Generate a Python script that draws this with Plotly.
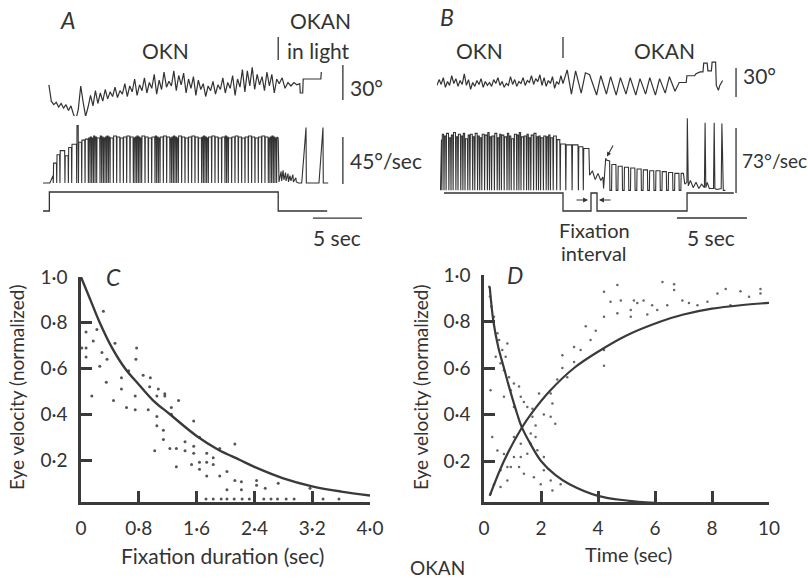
import plotly.graph_objects as go

W, H = 808, 581
INK = "#333333"
FONT = "Lato"

# ---------------- data ----------------
# Panel A (time in s, position in deg, velocity in deg/s, stimulus on/off)
A_pos_t0, A_pos_dt = 0.6, 0.25
A_pos_okn = [13, -1, -4, -2, -6, -3, -7, -4, -9, -5,
             -12, -17, -8, 12, -2, -14, -6, 4, -5, 8,
             -3, 6, -1, 9, 1, 7, 3, 11, 2, 8,
             5, 14, 3, 12, 7, 18, 4, 13, 8, 19,
             6, 15, 10, 22, 5, 17, 9, 24, 11, 16,
             12, 25, 8, 21, 13, 23, 6, 18, 10, 20,
             4, 17, 9, 14, 3, 12, 8, 16, 5, 13,
             9, 19, 6, 15, 10, 21, 4, 18, 11, 26,
             7, 25, 12, 28, 9, 22, 13, 20, 8, 24,
             12, 22, 6, 18]
A_pos_okan_t = [24.1, 24.4, 24.7, 25.0, 25.3, 25.6, 25.9, 26.2, 26.25, 26.5, 26.55, 28.35, 28.4]
A_pos_okan_v = [14, 19, 10, 15, 12, 15, 13, 14, 6, 6, 18, 18, 24]

A_vel_dips = [1.05, 1.4, 1.73, 2.24, 2.59, 2.93, 3.44, 3.62, 3.95, 4.29,
              4.63, 4.8, 4.97, 5.14, 5.31, 5.48, 5.82, 5.99, 6.16, 6.33,
              6.5, 6.67, 6.84, 7.18, 7.52, 7.86, 8.2, 8.54, 8.88, 9.22,
              9.39, 9.56, 9.73, 9.9, 10.07, 10.41, 10.75, 11.09, 11.43, 11.6,
              11.77, 11.94, 12.28, 12.62, 12.96, 13.13, 13.3, 13.47, 13.64, 13.81,
              14.15, 14.49, 14.83, 15.17, 15.51, 15.85, 16.19, 16.36, 16.53, 16.7,
              16.87, 17.21, 17.55, 17.89, 18.23, 18.57, 18.74, 18.91, 19.25, 19.59,
              19.93, 20.27, 20.61, 20.95, 21.29, 21.63, 21.97, 22.31, 22.65, 22.99,
              23.16, 23.33, 23.5, 23.67, 23.84]
A_vel_levels = [8, 20, 28, 32, 27, 35, 38, 56, 40, 42,
                43, 44, 45, 44, 46, 45, 44, 46, 45, 44,
                45, 46, 45, 44, 46, 45, 44, 45, 46, 45,
                44, 45, 46, 45, 44, 46, 45, 44, 45, 46,
                45, 44, 45, 46, 45, 44, 45, 46, 45, 44,
                46, 45, 44, 45, 46, 45, 44, 45, 46, 45,
                44, 45, 46, 45, 44, 45, 46, 45, 44, 45,
                46, 45, 44, 45, 46, 45, 44, 45, 46, 45,
                44, 45, 46, 45, 44, 45]
A_vel_okan_t = [24.0, 24.08, 24.3, 24.35, 24.5, 24.58, 24.75, 24.8, 25.0, 25.05,
                25.2, 25.3, 25.5, 25.55, 25.8, 25.85, 26.05, 26.4, 26.84, 26.87,
                28.16, 28.57, 28.6, 29.1]
A_vel_okan_v = [44, 2, 12, 3, 13, 4, 11, 3, 10, 2,
                8, 3, 9, 2, 6, 2, 1, 1, 54, 1,
                1, 54, 1, 1]
A_stim_t = [0, 0.65, 0.65, 24.0, 24.0, 29.0]
A_stim_v = [0, 0, 1, 1, 0, 0]

# Panel B
B_pos_t0, B_pos_dt = 0.0, 0.15
B_pos_okn = [12, 18, 13, 20, 10, 16, 12, 22, 14, 19,
             11, 17, 13, 24, 12, 18, 8, 15, 11, 17,
             13, 19, 10, 16, 12, 15, 11, 18, 14, 20,
             12, 16, 10, 14, 12, 21, 13, 18, 11, 16,
             14, 20, 12, 17, 15, 22, 13, 19, 16, 23,
             12, 20, 11, 17, 14, 21, 9, 16, 13, 22,
             14]
B_pos_okan_t = [9.3, 9.6, 9.9, 10.3, 10.6, 10.9, 11.4, 11.7, 12.1, 12.4,
                12.8, 13.1, 13.5, 13.8, 14.2, 14.5, 14.9, 15.2, 15.6, 15.9,
                16.3, 16.6, 17.0, 17.3, 17.8, 17.85, 18.4, 18.5, 18.8, 19.0,
                19.05, 19.3, 19.35, 19.6, 19.65, 19.9, 19.95, 20.1, 20.2, 20.4]
B_pos_okan_v = [28, 3, 27, 4, 25, 23, 2, 22, 3, 21,
                2, 20, 3, 20, 2, 19, 3, 20, 2, 19,
                4, 21, 6, 15, 15, 22, 22, 24, 26, 26,
                35, 35, 27, 27, 36, 36, 12, 7, 12, 17]

B_vel_dips = [0.35, 0.5, 0.65, 0.85, 1.0, 1.15, 1.35, 1.5, 1.7, 1.85,
              2.0, 2.2, 2.35, 2.55, 2.7, 2.9, 3.05, 3.2, 3.4, 3.6,
              3.75, 3.9, 4.1, 4.3, 4.45, 4.6, 4.8, 5.0, 5.15, 5.3,
              5.5, 5.7, 5.85, 6.0, 6.2, 6.4, 6.55, 6.7, 6.9, 7.1,
              7.25, 7.4, 7.6, 7.8, 7.95, 8.1, 8.3, 8.55, 8.8, 9.2,
              9.65, 10.1, 10.45]
B_vel_levels = [60, 66, 64, 67, 62, 65, 68, 63, 66, 64,
                67, 61, 65, 66, 63, 67, 64, 62, 66, 65,
                68, 63, 64, 67, 62, 66, 65, 63, 67, 64,
                61, 66, 65, 68, 63, 64, 66, 62, 65, 67,
                63, 64, 62, 64, 63, 65, 62, 64, 60, 55,
                54, 54, 52, 50]
B_vel_fix_t = [10.85, 10.9, 11.1, 11.3, 11.5, 11.7, 11.85, 11.9, 12.05, 12.1]
B_vel_fix_v = [50, 20, 25, 15, 22, 14, 18, 5, 39, 37]
B_okan_dips = [12.35, 12.8, 13.25, 13.7, 14.15, 14.6, 15.05, 15.5, 15.95, 16.4, 16.85, 17.3]
B_okan_levels = [36, 32, 30, 29, 28, 27, 26, 25, 25, 24, 23, 22, 22]
B_vel_light_t = [17.6, 17.7, 17.85, 17.88, 17.95, 18.1, 18.3, 18.5, 18.7, 18.9,
                 19.1, 19.15, 19.2, 19.3, 19.45, 19.75, 19.8, 19.85, 20.0, 20.3,
                 20.35, 20.4, 20.45, 20.6]
B_vel_light_v = [22, 10, 12, 84, 8, 14, 6, 12, 5, 10,
                 6, 79, 6, 12, 5, 5, 79, 5, 4, 5,
                 78, 4, 3, 3]
B_stim_t = [0.5, 9.0, 9.0, 11.0, 11.0, 11.43, 11.43, 17.86, 17.86, 21.2]
B_stim_v = [1, 1, 0, 0, 1, 1, 0, 0, 1, 1]

# Panel C
C_xticks = [0, 0.8, 1.6, 2.4, 3.2, 4.0]
C_xlabels = ["0", "0\u00b78", "1\u00b76", "2\u00b74", "3\u00b72", "4\u00b70"]
Y_ticks = [0.2, 0.4, 0.6, 0.8, 1.0]
Y_labels = ["0\u00b72", "0\u00b74", "0\u00b76", "0\u00b78", "1\u00b70"]
C_fit_t = [0, 0.13, 0.26, 0.43, 0.61, 0.8, 1.0, 1.23, 1.6, 1.9, 2.2, 2.4, 2.8, 3.2, 3.6, 4.0]
C_fit_v = [1.0, 0.9, 0.8, 0.69, 0.6, 0.53, 0.46, 0.4, 0.305, 0.245, 0.2, 0.17, 0.12, 0.085, 0.062, 0.045]
C_dot_t = [0.31, 0.07, 0.22, 0.17, 0.07, 0.29, 0.26, 0.36, 0.47, 0.77,
           0.76, 0.66, 0.56, 0.35, 0.15, 0.45, 0.63, 0.75, 0.56, 0.75,
           0.86, 0.96, 0.95, 1.07, 1.16, 1.16, 1.05, 1.35, 1.25, 0.93,
           1.05, 1.05, 1.14, 1.25, 1.02, 1.14, 1.23, 1.32, 1.32, 1.56,
           1.44, 1.44, 1.56, 1.56, 1.64, 1.53, 1.64, 1.64, 1.74, 1.74,
           1.83, 1.83, 1.92, 1.74, 1.92, 2.02, 2.13, 2.13, 2.22, 2.02,
           2.22, 2.43, 2.43, 2.55, 2.73, 3.17, 0.01, 0.07,
           1.73, 1.83, 1.94, 2.02, 2.12, 2.23, 2.33, 2.53, 2.63, 2.72,
           2.84, 2.95, 3.35, 3.57]
C_dot_v = [0.85, 0.76, 0.77, 0.72, 0.69, 0.67, 0.61, 0.64, 0.71, 0.69,
           0.64, 0.59, 0.56, 0.54, 0.48, 0.46, 0.43, 0.42, 0.51, 0.48,
           0.57, 0.56, 0.52, 0.51, 0.49, 0.48, 0.48, 0.46, 0.43, 0.42,
           0.39, 0.35, 0.33, 0.40, 0.24, 0.29, 0.25, 0.25, 0.17, 0.37,
           0.28, 0.24, 0.26, 0.23, 0.30, 0.18, 0.19, 0.16, 0.23, 0.19,
           0.21, 0.18, 0.25, 0.13, 0.13, 0.15, 0.27, 0.11, 0.105, 0.07,
           0.07, 0.11, 0.09, 0.076, 0.098, 0.076, 0.69, 0.65,
           0.03, 0.03, 0.03, 0.03, 0.03, 0.03, 0.03, 0.03, 0.03, 0.03,
           0.03, 0.03, 0.03, 0.03]

# Panel D
D_xticks = [0, 2, 4, 6, 8, 10]
D_xlabels = ["0", "2", "4", "6", "8", "10"]
D_rise_t = [0.2, 0.7, 1.31, 1.7, 2.3, 3.16, 4.0, 5.0, 6.2, 7.0, 8.0, 9.0, 10.0]
D_rise_v = [0.05, 0.2, 0.34, 0.41, 0.5, 0.6, 0.67, 0.74, 0.8, 0.83, 0.855, 0.87, 0.88]
D_decay_t = [0.2, 0.33, 0.5, 0.7, 0.9, 1.17, 1.31, 1.6, 2.0, 2.5, 3.0, 4.0, 5.0, 6.0]
D_decay_v = [0.95, 0.8, 0.69, 0.6, 0.51, 0.4, 0.35, 0.28, 0.2, 0.14, 0.1, 0.05, 0.03, 0.02]
D_dot_t = [4.68, 6.26, 6.67, 6.67, 4.21, 8.19, 8.48, 9.0, 9.3, 9.7,
           9.7, 4.44, 4.8, 5.26, 5.38, 5.6, 5.9, 6.08, 6.43, 6.96,
           7.19, 7.49, 7.84, 8.65, 4.21, 4.68, 5.15, 5.73, 5.15, 3.92,
           3.74, 3.57, 4.21, 3.16, 3.39, 2.75, 2.75, 3.16, 4.21, 2.92,
           2.57, 2.34, 2.4, 2.1, 2.34, 2.5, 1.93, 1.7, 1.64, 1.81,
           1.29, 1.05, 0.82, 0.58, 0.82, 0.58, 0.35, 0.23,
           0.18, 0.21, 0.26, 0.35, 0.47, 0.53, 0.82, 0.64, 0.41, 0.76,
           0.58, 0.7, 0.88, 1.05, 1.23, 0.94, 1.29, 0.7, 1.4, 1.52,
           1.05, 1.7, 1.81, 1.64, 1.52, 1.87, 2.1, 2.1, 2.34, 2.4,
           2.69, 1.29, 1.23, 1.4, 1.75, 1.99, 0.7, 0.94, 0.47, 1.05,
           0.23, 0.29]
D_dot_v = [0.957, 0.97, 0.96, 0.935, 0.928, 0.92, 0.94, 0.93, 0.906, 0.94,
           0.92, 0.885, 0.89, 0.89, 0.88, 0.89, 0.87, 0.85, 0.87, 0.89,
           0.88, 0.87, 0.885, 0.87, 0.82, 0.835, 0.85, 0.83, 0.82, 0.76,
           0.72, 0.78, 0.677, 0.69, 0.677, 0.655, 0.6, 0.626, 0.61, 0.56,
           0.55, 0.49, 0.447, 0.4, 0.39, 0.36, 0.49, 0.425, 0.318, 0.303,
           0.274, 0.217, 0.174, 0.16, 0.116, 0.088, 0.1, 0.059,
           0.95, 0.907, 0.864, 0.82, 0.75, 0.72, 0.705, 0.677, 0.648, 0.648,
           0.62, 0.59, 0.56, 0.533, 0.52, 0.504, 0.476, 0.476, 0.454, 0.432,
           0.432, 0.39, 0.353, 0.274, 0.231, 0.246, 0.217, 0.16, 0.116, 0.073,
           0.1, 0.217, 0.174, 0.145, 0.13, 0.1, 0.23, 0.174, 0.245, 0.303,
           0.504, 0.303]


# ---------------- helpers ----------------
def X(px):
    return px / W


def Y(py):
    return 1 - py / H


def h_axis(pa, va, pb, vb, left, right):
    k = (vb - va) / (pb - pa)
    return dict(domain=[X(left), X(right)], range=[va + (left - pa) * k, va + (right - pa) * k])


def v_axis(pa, va, pb, vb, top, bottom):
    k = (vb - va) / (pb - pa)
    return dict(domain=[Y(bottom), Y(top)], range=[va + (bottom - pa) * k, va + (top - pa) * k])


def dip_path(dips, levels, base, dw, fw):
    xs, ys = [], []
    for i, td in enumerate(dips):
        xs += [td - dw, td]
        ys += [levels[i], base]
        if fw > 0:
            xs.append(td + fw)
            ys.append(base)
        xs.append(td + fw + dw)
        ys.append(levels[i + 1])
    return xs, ys


hidden = dict(visible=False, showgrid=False, zeroline=False, fixedrange=True)

fig = go.Figure()


def line(x, y, xa, ya, w=1.2, color=INK, shape="linear"):
    fig.add_trace(go.Scatter(x=x, y=y, xaxis=xa, yaxis=ya, mode="lines",
                             line=dict(color=color, width=w, shape=shape),
                             hoverinfo="skip", showlegend=False))


# Panel A traces
A_pos_t = [A_pos_t0 + i * A_pos_dt for i in range(len(A_pos_okn))]
line(A_pos_t + A_pos_okan_t, A_pos_okn + A_pos_okan_v, "x", "y", 1.2)
ax_, ay_ = dip_path(A_vel_dips, A_vel_levels, 1, 0.03, 0)
line([0, 0.7] + ax_ + A_vel_okan_t, [1, 1] + ay_ + A_vel_okan_v, "x", "y2", 1.1)
line(A_stim_t, A_stim_v, "x", "y3", 1.3)
line([27.55, 32.55], [-0.37, -0.37], "x", "y3", 1.3)       # 5 sec bar
line([30.6, 30.6], [0, 30], "x", "y", 1.3)                 # 30 deg bar
line([30.6, 30.6], [0, 45], "x", "y2", 1.3)                # 45 deg/s bar

# Panel B traces
B_pos_t = [B_pos_t0 + i * B_pos_dt for i in range(len(B_pos_okn))]
line(B_pos_t + B_pos_okan_t, B_pos_okn + B_pos_okan_v, "x2", "y4", 1.2)
b1x, b1y = dip_path(B_vel_dips, B_vel_levels, 3, 0.03, 0)
b2x, b2y = dip_path(B_okan_dips, B_okan_levels, 3, 0.02, 0.12)
line([0.25] + b1x + B_vel_fix_t + b2x + B_vel_light_t,
     [3] + b1y + B_vel_fix_v + b2y + B_vel_light_v, "x2", "y5", 1.1)
line(B_stim_t, B_stim_v, "x2", "y6", 1.3)
line([17.14, 22.14], [-0.39, -0.39], "x2", "y6", 1.3)      # 5 sec bar
line([21.36, 21.36], [0, 30], "x2", "y4", 1.3)             # 30 deg bar
line([21.36, 21.36], [0, 73], "x2", "y5", 1.3)             # 73 deg/s bar

# Panel C
fig.add_trace(go.Scatter(x=C_dot_t, y=C_dot_v, xaxis="x3", yaxis="y7", mode="markers",
                         marker=dict(size=3, color="#555555"), hoverinfo="skip", showlegend=False))
line(C_fit_t, C_fit_v, "x3", "y7", 2.4, "#3a3a3a", "spline")

# Panel D
fig.add_trace(go.Scatter(x=D_dot_t, y=D_dot_v, xaxis="x4", yaxis="y8", mode="markers",
                         marker=dict(size=2.5, color="#666666"), hoverinfo="skip", showlegend=False))
line(D_rise_t, D_rise_v, "x4", "y8", 2.2, "#3a3a3a", "spline")
line(D_decay_t, D_decay_v, "x4", "y8", 2.2, "#3a3a3a", "spline")

# ---------------- axes ----------------
vis_axis = dict(showline=True, linewidth=2.5, linecolor="#3a3a3a", ticks="inside", ticklen=11,
                tickwidth=2.5, tickcolor="#3a3a3a", showgrid=False, zeroline=False,
                tickfont=dict(family=FONT, size=19, color=INK), ticklabelstandoff=7,
                fixedrange=True, automargin=False)

layout = dict(
    width=W, height=H, margin=dict(l=0, r=0, t=0, b=0, pad=0, autoexpand=False),
    paper_bgcolor="white", plot_bgcolor="white", showlegend=False,
    xaxis=dict(**h_axis(43, 0, 92, 5, 43, 364), **hidden, anchor="y"),
    xaxis2=dict(**h_axis(437, 0, 507, 5, 437, 750), **hidden, anchor="y4"),
    yaxis=dict(**v_axis(100, 0, 65, 30, 58, 126), **hidden, anchor="x"),
    yaxis2=dict(**v_axis(184, 0, 137, 45, 116, 197), **hidden, anchor="x"),
    yaxis3=dict(**v_axis(211, 0, 192, 1, 186, 245), **hidden, anchor="x"),
    yaxis4=dict(**v_axis(97, 0, 68, 30, 55, 112), **hidden, anchor="x2"),
    yaxis5=dict(**v_axis(193, 0, 128, 73, 108, 200), **hidden, anchor="x2"),
    yaxis6=dict(**v_axis(211, 0, 193, 1, 186, 245), **hidden, anchor="x2"),
    xaxis3=dict(**h_axis(81, 0, 370, 4, 81, 370), **vis_axis, anchor="y7",
                tickvals=C_xticks, ticktext=C_xlabels),
    yaxis7=dict(**v_axis(277, 1.0, 460, 0.2, 277, 502), **vis_axis, anchor="x3",
                tickvals=Y_ticks, ticktext=Y_labels),
    xaxis4=dict(**h_axis(484, 0, 769, 10, 484, 769), **vis_axis, anchor="y8",
                tickvals=D_xticks, ticktext=D_xlabels),
    yaxis8=dict(**v_axis(275, 1.0, 461, 0.2, 275, 502), **vis_axis, anchor="x4",
                tickvals=Y_ticks, ticktext=Y_labels),
)
fig.update_layout(**layout)

# ---------------- text ----------------
def txt(s, px, py, size=21, xanchor="center", angle=0, yanchor="middle"):
    fig.add_annotation(text=s, x=X(px), y=Y(py), xref="paper", yref="paper", showarrow=False,
                       xanchor=xanchor, yanchor=yanchor, textangle=angle,
                       font=dict(family=FONT, size=size, color=INK))


txt("<i>A</i>", 68, 20, 23)
txt("OKN", 165, 50, 21)
txt("OKAN", 320, 20, 21)
txt("in light", 318, 50, 21)
txt("30\u00b0", 348, 87, 21, "left")
txt("45\u00b0/sec", 348, 160, 21, "left")
txt("5 sec", 337, 237, 21)

txt("<i>B</i>", 447, 17, 23)
txt("OKN", 479, 50, 21)
txt("OKAN", 664, 50, 21)
txt("30\u00b0", 741, 75, 21, "left")
txt("73\u00b0/sec", 740, 160, 19, "left")
txt("Fixation", 594, 230, 20)
txt("interval", 594, 253, 20)
txt("5 sec", 711, 237, 21)

txt("<i>C</i>", 114, 277, 23)
txt("<i>D</i>", 515, 275, 23)
txt("Eye velocity (normalized)", 17, 388, 19, angle=-90)
txt("Eye velocity (normalized)", 421, 388, 19, angle=-90)
txt("Fixation duration (sec)", 222, 555, 21)
txt("Time (sec)", 628, 554, 20)
txt("OKAN", 437, 581, 19, yanchor="bottom")

# separators between OKN and OKAN
fig.add_shape(type="line", xref="x", yref="paper", x0=24.0, x1=24.0, y0=Y(60), y1=Y(37),
              line=dict(color=INK, width=1.3))
fig.add_shape(type="line", xref="x2", yref="paper", x0=9.0, x1=9.0, y0=Y(58), y1=Y(37),
              line=dict(color=INK, width=1.3))

# fixation interval arrows and the small pointer arrow
for hx, tx in [(10.79, 9.86), (11.57, 12.5)]:
    fig.add_annotation(x=hx, y=0.61, ax=tx, ay=0.61, xref="x2", yref="y6", axref="x2", ayref="y6",
                       text="", showarrow=True, arrowhead=2, arrowsize=0.9, arrowwidth=1.1,
                       arrowcolor=INK)
fig.add_annotation(x=12.14, y=41, ax=12.64, ay=55, xref="x2", yref="y5", axref="x2", ayref="y5",
                   text="", showarrow=True, arrowhead=2, arrowsize=0.8, arrowwidth=1.1,
                   arrowcolor=INK)

post = ("document.documentElement.style.margin='0';document.body.style.margin='0';"
        "document.body.style.padding='0';document.documentElement.style.overflow='hidden';"
        "document.body.style.overflow='hidden';")
fig.write_html("out.html", post_script=post, config={"displayModeBar": False})
